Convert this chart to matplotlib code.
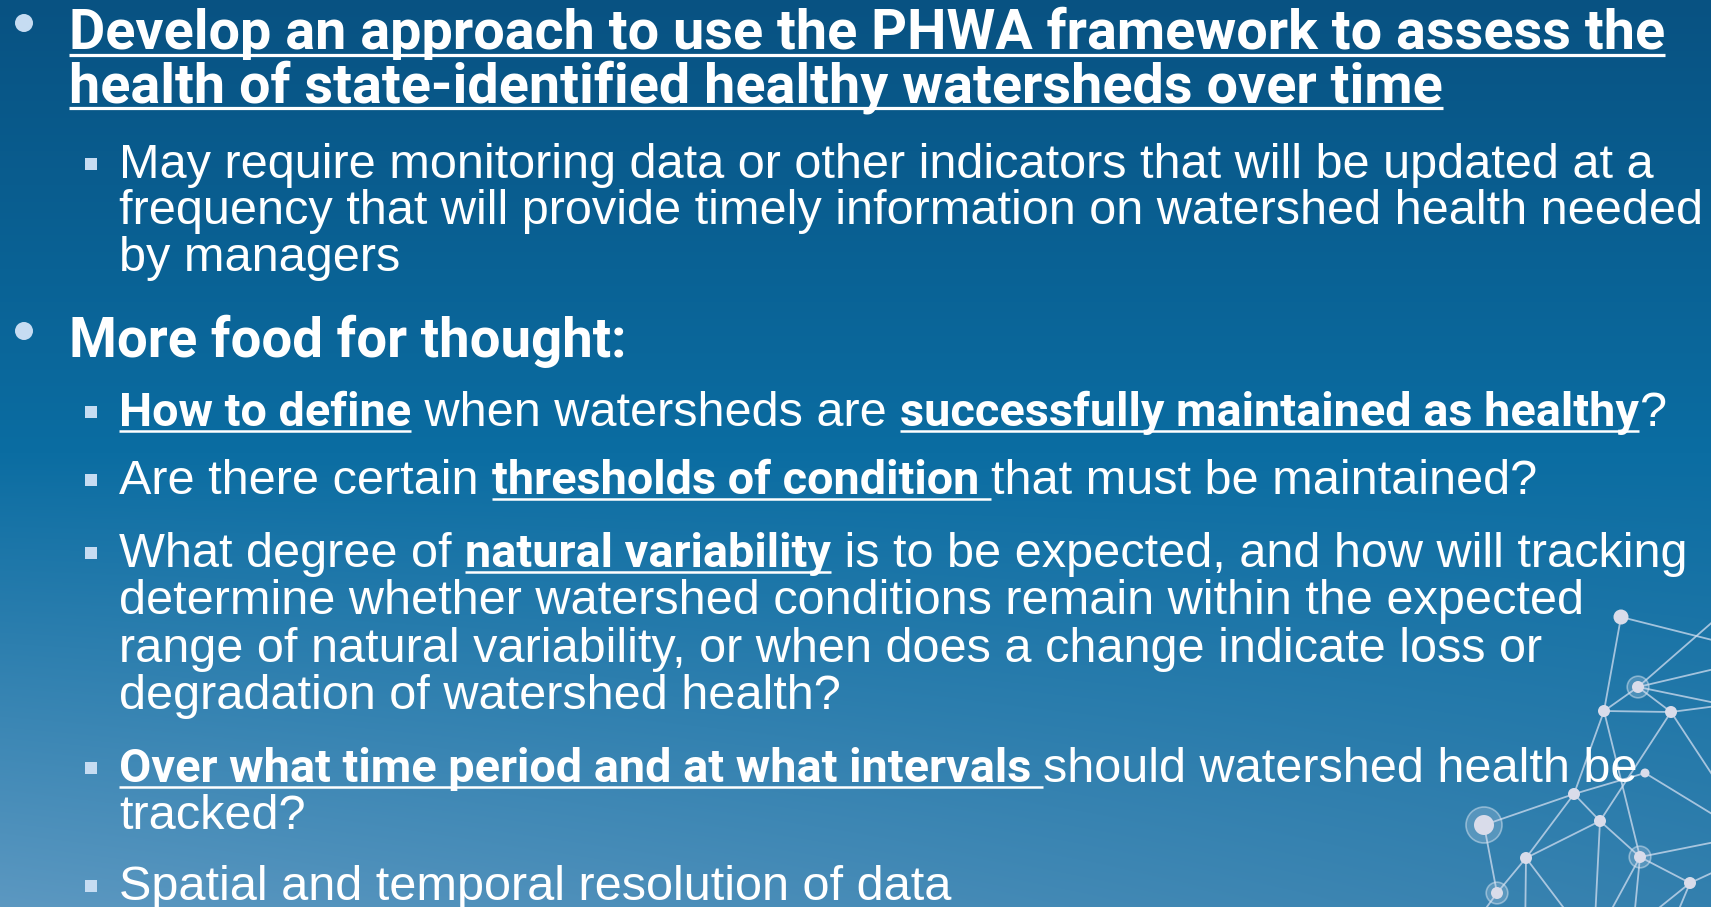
import numpy as np
import matplotlib
matplotlib.use('Agg')
import matplotlib.pyplot as plt
from matplotlib import font_manager

W, H = 1711, 907

# slide text, one entry per printed line: (level, [(text, style), ...])
# level 0 = continuation of the paragraph above
# styles: T = bold underlined heading, H = bold heading, N = body, E = bold underlined body
lines = [
    (1, [("Develop an approach to use the PHWA framework to assess the", "T")]),
    (0, [("health of state-identified healthy watersheds over time", "T")]),
    (2, [("May require monitoring data or other indicators that will be updated at a", "N")]),
    (0, [("frequency that will provide timely information on watershed health needed", "N")]),
    (0, [("by managers", "N")]),
    (1, [("More food for thought:", "H")]),
    (2, [("How to define", "E"), (" when watersheds are ", "N"),
         ("successfully maintained as healthy", "E"), ("?", "N")]),
    (2, [("Are there certain ", "N"), ("thresholds of condition ", "E"),
         ("that must be maintained?", "N")]),
    (2, [("What degree of ", "N"), ("natural variability", "E"),
         (" is to be expected, and how will tracking", "N")]),
    (0, [("determine whether watershed conditions remain within the expected", "N")]),
    (0, [("range of natural variability, or when does a change indicate loss or", "N")]),
    (0, [("degradation of watershed health?", "N")]),
    (2, [("Over what time period and at what intervals ", "E"),
         ("should watershed health be", "N")]),
    (0, [("tracked?", "N")]),
    (2, [("Spatial and temporal resolution of data", "N")]),
]
baselines = [49, 102, 178, 224, 271, 357, 426, 494, 567, 614, 662, 709, 782, 829, 900]

# decorative network in the lower right corner
node_x = [1621, 1638, 1604, 1671, 1574, 1484, 1600, 1526, 1640, 1690, 1497, 1645]
node_y = [617, 687, 711, 712, 794, 825, 821, 858, 857, 883, 893, 773]
node_r = [7.5, 6, 6, 6, 6, 10, 6, 6, 6, 6, 6, 4.5]
node_ring = [0, 1, 0, 0, 0, 1, 0, 0, 1, 0, 1, 0]
edges = [(0, 2), (1, 2), (1, 3), (2, 3), (2, 8), (2, 4), (3, 6), (5, 4), (5, 10),
         (4, 6), (4, 7), (6, 7), (6, 8), (7, 10), (8, 9), (4, 11)]
# edges that leave the slide: (node, x_end, y_end)
out_edges = [(0, 1740, 647), (1, 1740, 598), (1, 1740, 663), (1, 1740, 708),
             (3, 1740, 703), (3, 1740, 817), (11, 1740, 831), (8, 1740, 837),
             (9, 1740, 860), (6, 1594, 940), (7, 1525, 940), (7, 1588, 940),
             (8, 1632, 940), (8, 1595, 940), (9, 1666, 940), (9, 1619, 940),
             (10, 1463, 940)]

names = {f.name for f in font_manager.fontManager.ttflist}
def pick(*cands):
    for c in cands:
        if c in names:
            return c
    return 'DejaVu Sans'

heavy = pick('Roboto', 'Liberation Sans', 'DejaVu Sans')
body = pick('Liberation Sans', 'Roboto', 'DejaVu Sans')

fig = plt.figure(figsize=(W / 100, H / 100), dpi=100)
ax = fig.add_axes([0, 0, 1, 1])
ax.set_xlim(0, W)
ax.set_ylim(H, 0)
ax.axis('off')

# background gradient
yy, xx = np.mgrid[0:H, 0:W]
t = (yy / (H - 1))[..., None]
s = (xx / (W - 1))[..., None]
top = np.array([8, 82, 130]) / 255
mid = np.array([11, 109, 162]) / 255
bot_l = np.array([92, 152, 193]) / 255
bot_r = np.array([52, 128, 174]) / 255
bot = bot_l * (1 - s) + bot_r * s
up = top * (1 - t / 0.5) + mid * (t / 0.5)
lo = mid * (1 - (t - 0.5) / 0.5) + bot * ((t - 0.5) / 0.5)
img = np.where(t < 0.5, up, lo)
ax.imshow(np.clip(img, 0, 1), extent=[0, W, H, 0], aspect='auto', zorder=0)

# network
ecol = (0.82, 0.87, 0.94, 0.75)
for a, b in edges:
    ax.plot([node_x[a], node_x[b]], [node_y[a], node_y[b]], color=ecol, lw=1.3, zorder=1)
for a, xe, ye in out_edges:
    ax.plot([node_x[a], xe], [node_y[a], ye], color=ecol, lw=1.3, zorder=1)
for x, y, r, ring in zip(node_x, node_y, node_r, node_ring):
    if ring:
        ax.add_patch(plt.Circle((x, y), r * 1.8, fc=(0.8, 0.86, 0.93, 0.25),
                                ec=(0.85, 0.9, 0.95, 0.5), lw=1.2, zorder=2))
    ax.add_patch(plt.Circle((x, y), r, fc='#d9dcea', ec='none', zorder=3))

renderer = fig.canvas.get_renderer()

def text_w(s, **kw):
    t1 = ax.text(0, 0, '|' + s + '|', **kw)
    t0 = ax.text(0, 0, '||', **kw)
    w = t1.get_window_extent(renderer).width - t0.get_window_extent(renderer).width
    t1.remove()
    t0.remove()
    return w

fonts = {
    'T': dict(family=heavy, weight='bold'),
    'H': dict(family=heavy, weight='bold'),
    'N': dict(family=body, weight='normal'),
    'E': dict(family=heavy, weight='bold'),
}
# fit sizes to the widths seen on the slide
sizes = {}
sizes['T'] = 36 * 1595 / text_w(lines[0][1][0][0], fontsize=36, **fonts['T'])
sizes['H'] = 36 * 558 / text_w(lines[5][1][0][0], fontsize=36, **fonts['H'])
sizes['N'] = 30 * 1531 / text_w(lines[2][1][0][0], fontsize=30, **fonts['N'])
sizes['E'] = 30 * 292 / text_w(lines[6][1][0][0], fontsize=30, **fonts['E'])

bullet_col = '#c6dcf2'
indent = {1: 69, 2: 119}
cur = 1
for (level, segs), yb in zip(lines, baselines):
    if level == 1:
        ax.add_patch(plt.Circle((24, yb - 26), 9, fc=bullet_col, ec='none', zorder=4))
    elif level == 2:
        ax.add_patch(plt.Rectangle((85, yb - 20), 12, 12, fc=bullet_col, ec='none', zorder=4))
    if level:
        cur = level
    x = indent[cur]
    for txt, st in segs:
        kw = dict(fontsize=sizes[st], **fonts[st])
        ax.text(x, yb, txt, color='white', va='baseline', ha='left', zorder=5, **kw)
        w = text_w(txt, **kw)
        if st in ('T', 'E'):
            off = 6 if st == 'T' else 5
            ax.plot([x, x + w], [yb + off, yb + off], color='white',
                    lw=2.3 if st == 'T' else 1.8, solid_capstyle='butt', zorder=5)
        x += w

fig.savefig('out.png', dpi=100)
